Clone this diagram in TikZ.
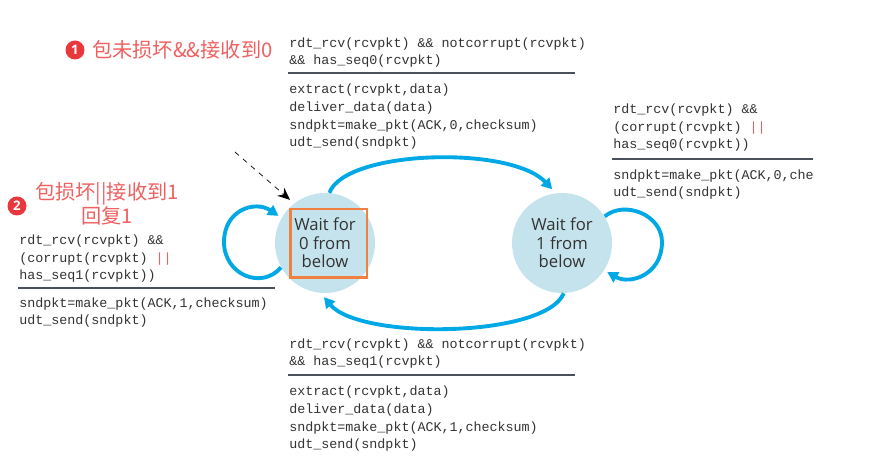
\documentclass[tikz,border=0pt]{standalone}
\usepackage{fontspec}
\setsansfont{Open Sans}
\setmonofont{Liberation Mono}
\newfontfamily\cjk{Noto Sans CJK SC}
\usetikzlibrary{arrows.meta, positioning, shapes.geometric, calc}

\definecolor{stateblue}{RGB}{197,227,236}
\definecolor{arcblue}{RGB}{0,169,230}
\definecolor{hlorange}{RGB}{240,128,64}
\definecolor{notered}{RGB}{240,96,96}
\definecolor{dotred}{RGB}{232,56,61}
\definecolor{txtgray}{RGB}{51,51,51}
\definecolor{rulegray}{RGB}{74,79,92}
\newcommand{\orbar}{\textcolor{notered}{||}}

\begin{document}
\begin{tikzpicture}[x=0.02cm, y=-0.02cm,
    state/.style={circle, fill=stateblue, minimum size=2cm, inner sep=0pt, align=center,
      font=\sffamily\fontsize{9.5}{10.5}\selectfont, text=txtgray},
    trans/.style={draw=arcblue, line width=2.2pt, -{Triangle[length=6pt,width=6.5pt]}},
    code/.style={anchor=base west, inner sep=0pt, align=left, text=txtgray,
      font=\ttfamily\fontsize{7.6}{10.24}\selectfont},
    sep/.style={draw=rulegray, line width=0.6pt},
    note/.style={text=notered, inner sep=0pt, font=\cjk\fontsize{11.5}{12.5}\selectfont},
    num/.style={circle, fill=dotred, text=white, inner sep=0pt, minimum size=0.38cm,
      font=\sffamily\bfseries\fontsize{7.5}{8}\selectfont}]
    \fill[white] (0,0) rectangle (870,462);

    % states
    \node[state] (s0) at (325,243) {Wait for\\0 from\\below};
    \node[state] (s1) at (562,243) {Wait for\\1 from\\below};
    \node[draw=hlorange, line width=1.7pt, minimum width=1.54cm, minimum height=1.38cm] (hl) at (328.5,243.5) {};

    % top transition 0 -> 1 (base = last line)
    \node[code] (c01) at (289,65) {rdt\_rcv(rcvpkt) \&\& notcorrupt(rcvpkt)\\\&\& has\_seq0(rcvpkt)};
    \draw[sep] (288,73) -- (575,73);
    \node[code] (a01) at (289,147) {extract(rcvpkt,data)\\deliver\_data(data)\\sndpkt=make\_pkt(ACK,0,checksum)\\udt\_send(sndpkt)};

    % self loop on 1
    \node[code] (c11) at (613,149) {rdt\_rcv(rcvpkt) \&\&\\(corrupt(rcvpkt) \orbar\\has\_seq0(rcvpkt))};
    \draw[sep] (612,159) -- (813,159);
    \begin{scope}
      \clip (0,0) rectangle (813,462);
      \node[code] (a11) at (613,197) {sndpkt=make\_pkt(ACK,0,checksum)\\udt\_send(sndpkt)};
    \end{scope}

    % self loop on 0
    \node[code] (c00) at (19,280) {rdt\_rcv(rcvpkt) \&\&\\(corrupt(rcvpkt) \orbar\\has\_seq1(rcvpkt))};
    \draw[sep] (18,288) -- (275,288);
    \node[code] (a00) at (19,325) {sndpkt=make\_pkt(ACK,1,checksum)\\udt\_send(sndpkt)};

    % bottom transition 1 -> 0
    \node[code] (c10) at (289,366) {rdt\_rcv(rcvpkt) \&\& notcorrupt(rcvpkt)\\\&\& has\_seq1(rcvpkt)};
    \draw[sep] (288,375) -- (575,375);
    \node[code] (a10) at (289,449) {extract(rcvpkt,data)\\deliver\_data(data)\\sndpkt=make\_pkt(ACK,1,checksum)\\udt\_send(sndpkt)};

    % notes
    \node[num] (n1) at (75,50) {1};
    \node[note, anchor=west] (t1) at (92,50) {包未损坏\&\&接收到0};
    \node[num] (n2) at (17,206) {2};
    \node[note, align=center] (t2) at (107,204) {包损坏||接收到1\\回复1};

    % transitions
    \coordinate (init) at (235,152);
    \draw[dashed, -{Stealth[length=7pt,width=6pt]}, shorten >=3pt] (init) -- (s0.128);
    \draw[trans, shorten >=3pt] (s0.85) .. controls (345,150) and (510,145) .. (s1.97);
    \draw[trans, shorten >=3pt] (s1.272) .. controls (545,338) and (360,340) .. (s0.265);
    \draw[trans, shorten >=2pt] (s0.209) .. controls (262,290) and (224,275) .. (224,242)
      .. controls (224,210) and (255,200) .. (s0.150);
    \draw[trans, shorten >=2pt] (s1.32) .. controls (625,200) and (662,215) .. (662,242)
      .. controls (662,275) and (630,285) .. (s1.327);
  \end{tikzpicture}
\end{document}
